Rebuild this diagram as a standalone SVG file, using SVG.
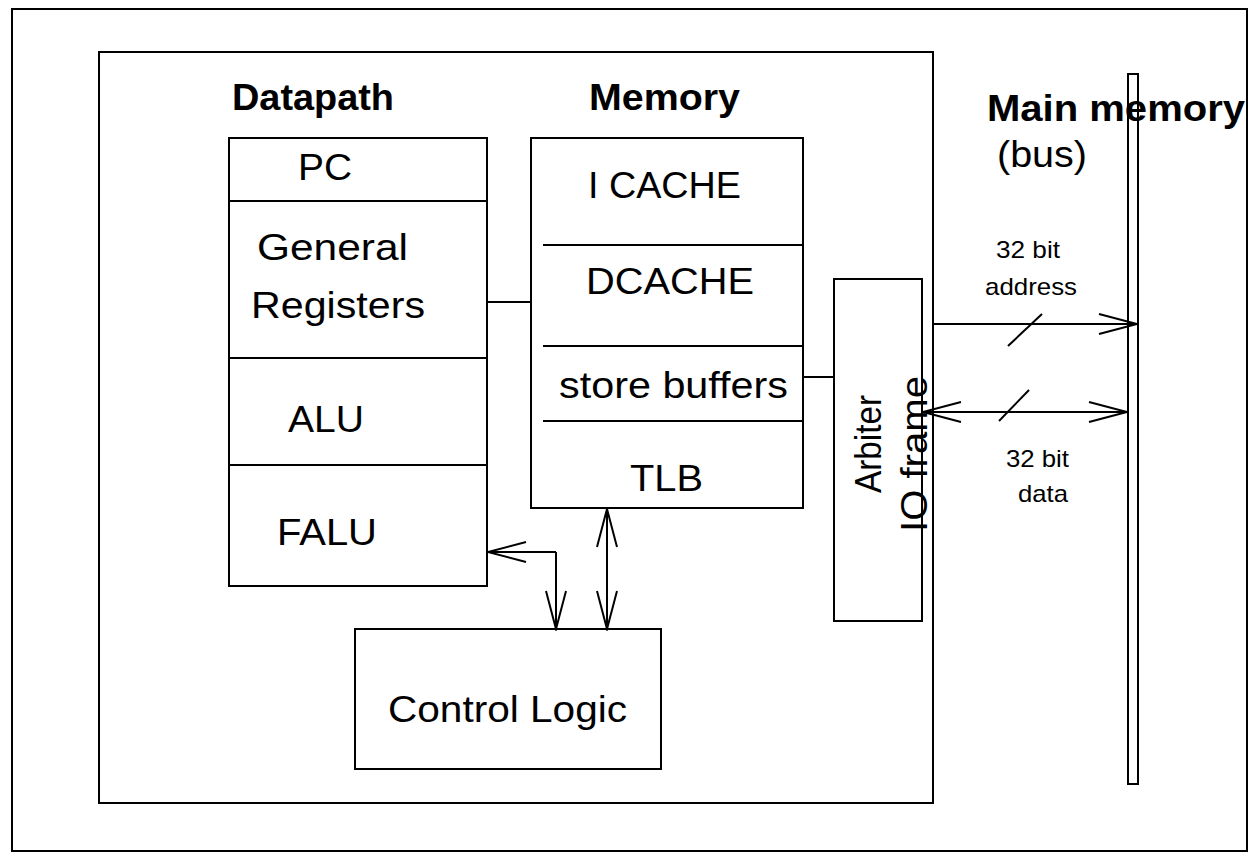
<svg xmlns="http://www.w3.org/2000/svg" width="1259" height="854" viewBox="0 0 1259 854">
<style>
.box{fill:none;stroke:#000;stroke-width:2}
.ln{fill:none;stroke:#000;stroke-width:2}
.t{font-family:"Liberation Sans",Arial,Helvetica,sans-serif;font-size:37px;fill:#000}
.h{font-family:"Liberation Sans",Arial,Helvetica,sans-serif;font-size:37px;font-weight:bold;fill:#000}
.s{font-family:"Liberation Sans",Arial,Helvetica,sans-serif;font-size:24px;fill:#000}
</style>
<defs>
<marker id="ah" markerUnits="userSpaceOnUse" viewBox="-40 -12 42 24" refX="0" refY="0" markerWidth="42" markerHeight="24" orient="auto-start-reverse">
<path d="M-38,-10 L0,0 L-38,10" fill="none" stroke="#000" stroke-width="2"/>
</marker>
</defs>
<rect fill="#fff" x="0" y="0" width="1259" height="854"/>
<g id="frame">
<rect class="box" x="12" y="9" width="1235" height="842"/>
<rect class="box" x="99" y="52" width="834" height="751"/>
</g>
<g id="datapath">
<text class="h" x="232" y="110" textLength="162" lengthAdjust="spacingAndGlyphs">Datapath</text>
<rect class="box" x="229" y="138" width="258" height="448"/>
<line class="ln" x1="229" y1="201" x2="487" y2="201"/>
<line class="ln" x1="229" y1="358" x2="487" y2="358"/>
<line class="ln" x1="229" y1="465" x2="487" y2="465"/>
<text class="t" x="298" y="180" textLength="54" lengthAdjust="spacingAndGlyphs">PC</text>
<text class="t" x="257" y="260" textLength="151" lengthAdjust="spacingAndGlyphs">General</text>
<text class="t" x="251" y="318" textLength="174" lengthAdjust="spacingAndGlyphs">Registers</text>
<text class="t" x="288" y="432" textLength="76" lengthAdjust="spacingAndGlyphs">ALU</text>
<text class="t" x="277" y="545" textLength="100" lengthAdjust="spacingAndGlyphs">FALU</text>
</g>
<g id="memory">
<text class="h" x="589" y="110" textLength="151" lengthAdjust="spacingAndGlyphs">Memory</text>
<rect class="box" x="531" y="138" width="272" height="370"/>
<line class="ln" x1="543" y1="245" x2="803" y2="245"/>
<line class="ln" x1="543" y1="346" x2="803" y2="346"/>
<line class="ln" x1="543" y1="421" x2="803" y2="421"/>
<text class="t" x="588" y="198" textLength="153" lengthAdjust="spacingAndGlyphs">I CACHE</text>
<text class="t" x="586" y="294" textLength="168" lengthAdjust="spacingAndGlyphs">DCACHE</text>
<text class="t" x="559" y="398" textLength="229" lengthAdjust="spacingAndGlyphs">store buffers</text>
<text class="t" x="630" y="491" textLength="73" lengthAdjust="spacingAndGlyphs">TLB</text>
</g>
<g id="arbiter">
<rect class="box" x="834" y="279" width="88" height="342"/>
<text class="t" transform="translate(881,493) rotate(-90)" x="0" y="0" textLength="98" lengthAdjust="spacingAndGlyphs">Arbiter</text>
<text class="t" transform="translate(927,532) rotate(-90)" x="0" y="0" textLength="156" lengthAdjust="spacingAndGlyphs">IO frame</text>
</g>
<g id="control">
<rect class="box" x="355" y="629" width="306" height="140"/>
<text class="t" x="388" y="722" textLength="239" lengthAdjust="spacingAndGlyphs">Control Logic</text>
</g>
<g id="bus">
<text class="h" x="987" y="121" textLength="258" lengthAdjust="spacingAndGlyphs">Main memory</text>
<text class="t" x="997" y="167" textLength="90" lengthAdjust="spacingAndGlyphs">(bus)</text>
<rect class="box" x="1128" y="74" width="10" height="710"/>
</g>
<g id="connectors">
<line class="ln" x1="487" y1="302" x2="531" y2="302"/>
<line class="ln" x1="803" y1="377" x2="834" y2="377"/>
<path class="ln" d="M556,552 L488,552" marker-end="url(#ah)"/>
<path class="ln" d="M556,552 L556,629" marker-end="url(#ah)"/>
<path class="ln" d="M607,509 L607,629" marker-start="url(#ah)" marker-end="url(#ah)"/>
<path class="ln" d="M934,324 L1137,324" marker-end="url(#ah)"/>
<line class="ln" x1="1008" y1="346" x2="1042" y2="314"/>
<text class="s" x="996" y="258" textLength="64" lengthAdjust="spacingAndGlyphs">32 bit</text>
<text class="s" x="985" y="295" textLength="92" lengthAdjust="spacingAndGlyphs">address</text>
<path class="ln" d="M923,412 L1127,412" marker-start="url(#ah)" marker-end="url(#ah)"/>
<line class="ln" x1="999" y1="421" x2="1029" y2="390"/>
<text class="s" x="1006" y="467" textLength="63" lengthAdjust="spacingAndGlyphs">32 bit</text>
<text class="s" x="1018" y="502" textLength="50" lengthAdjust="spacingAndGlyphs">data</text>
</g>
</svg>
